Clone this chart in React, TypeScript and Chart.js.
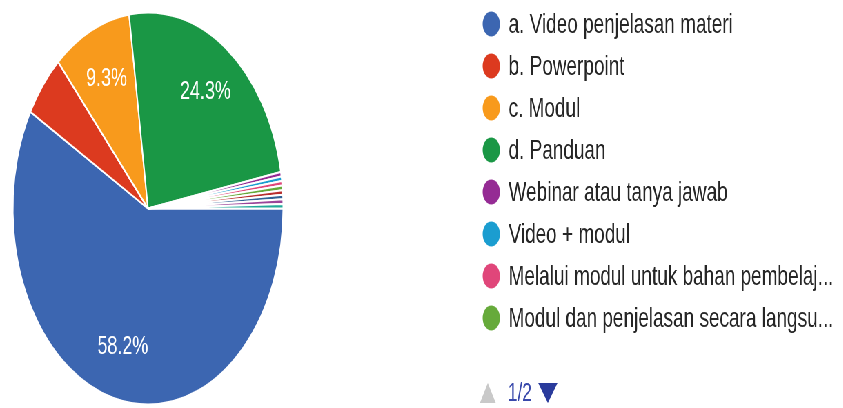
import React, { useEffect, useRef } from "react";
import { Chart, registerables } from "chart.js";

Chart.register(...registerables);

const categories = [
  "a. Video penjelasan materi",
  "b. Powerpoint",
  "c. Modul",
  "d. Panduan",
  "Webinar atau tanya jawab",
  "Video + modul",
  "Melalui modul untuk bahan pembelaj...",
  "Modul dan penjelasan secara langsu...",
  "Lainnya 1",
  "Lainnya 2",
  "Lainnya 3",
  "Lainnya 4",
];
const responses = [156, 14, 25, 65, 1, 1, 1, 1, 1, 1, 1, 1];
const sliceColors = [
  "#3c66b1",
  "#dc3a1f",
  "#f89a1c",
  "#1a9745",
  "#952b94",
  "#1b9dd0",
  "#e0467a",
  "#66aa3a",
  "#b82e2e",
  "#316395",
  "#994499",
  "#22aa99",
];
const legendCount = 8;
const pageLabel = "1/2";

const SX = 0.69;
const CW = 1222;
const CH = 408;

const overlayPlugin = {
  id: "overlay",
  afterDatasetsDraw(chart: any) {
    const ctx = chart.ctx;
    const meta = chart.getDatasetMeta(0);
    const total = responses.reduce((a, b) => a + b, 0);
    ctx.save();
    // percentage labels
    ctx.font = "26px 'Liberation Sans', Arial, sans-serif";
    ctx.fillStyle = "#ffffff";
    ctx.textAlign = "center";
    ctx.textBaseline = "middle";
    meta.data.forEach((arc: any, i: number) => {
      const frac = responses[i] / total;
      if (frac < 0.06) return;
      const p = arc.getProps(["x", "y", "startAngle", "endAngle", "outerRadius"], true);
      const mid = (p.startAngle + p.endAngle) / 2;
      const r = p.outerRadius * 0.73;
      ctx.fillText((frac * 100).toFixed(1) + "%", p.x + Math.cos(mid) * r, p.y + Math.sin(mid) * r);
    });
    // legend
    const cx = 712;
    const tx = 737;
    const y0 = 24;
    const dy = 42;
    ctx.font = "27.5px 'Liberation Sans', Arial, sans-serif";
    ctx.textAlign = "left";
    for (let i = 0; i < legendCount; i++) {
      const y = y0 + i * dy;
      ctx.beginPath();
      ctx.arc(cx, y, 12.5, 0, Math.PI * 2);
      ctx.fillStyle = sliceColors[i];
      ctx.fill();
      ctx.fillStyle = "#262626";
      ctx.fillText(categories[i], tx, y + 1);
    }
    // pagination
    const py = 393;
    ctx.fillStyle = "#c9c9c9";
    ctx.beginPath();
    ctx.moveTo(707, py - 10);
    ctx.lineTo(718.5, py + 10);
    ctx.lineTo(695.5, py + 10);
    ctx.closePath();
    ctx.fill();
    ctx.fillStyle = "#3949ab";
    ctx.font = "25px 'Liberation Sans', Arial, sans-serif";
    ctx.fillText(pageLabel, 736, py + 1);
    ctx.fillStyle = "#2a3b9c";
    ctx.beginPath();
    ctx.moveTo(780, py - 10);
    ctx.lineTo(808, py - 10);
    ctx.lineTo(794, py + 10);
    ctx.closePath();
    ctx.fill();
    ctx.restore();
  },
};

export default function App() {
  const ref = useRef<HTMLCanvasElement | null>(null);
  useEffect(() => {
    document.body.style.overflow = "hidden";
    const chart = new Chart(ref.current as HTMLCanvasElement, {
      type: "pie",
      data: {
        labels: categories,
        datasets: [
          {
            data: responses,
            backgroundColor: sliceColors,
            borderColor: "#ffffff",
            borderWidth: 2,
          },
        ],
      },
      options: {
        responsive: false,
        animation: false,
        rotation: 90,
        layout: { padding: { left: 17.5, right: 810.5, top: 11.5, bottom: 2.5 } },
        plugins: {
          legend: { display: false },
          tooltip: { enabled: false },
        },
      },
      plugins: [overlayPlugin],
    });
    return () => chart.destroy();
  }, []);
  return (
    <div
      style={{
        position: "fixed",
        left: 0,
        top: 0,
        width: CW,
        height: CH,
        transform: `scaleX(${SX})`,
        transformOrigin: "0 0",
        background: "#ffffff",
      }}
    >
      <canvas ref={ref} width={CW} height={CH} style={{ display: "block" }} />
    </div>
  );
}
